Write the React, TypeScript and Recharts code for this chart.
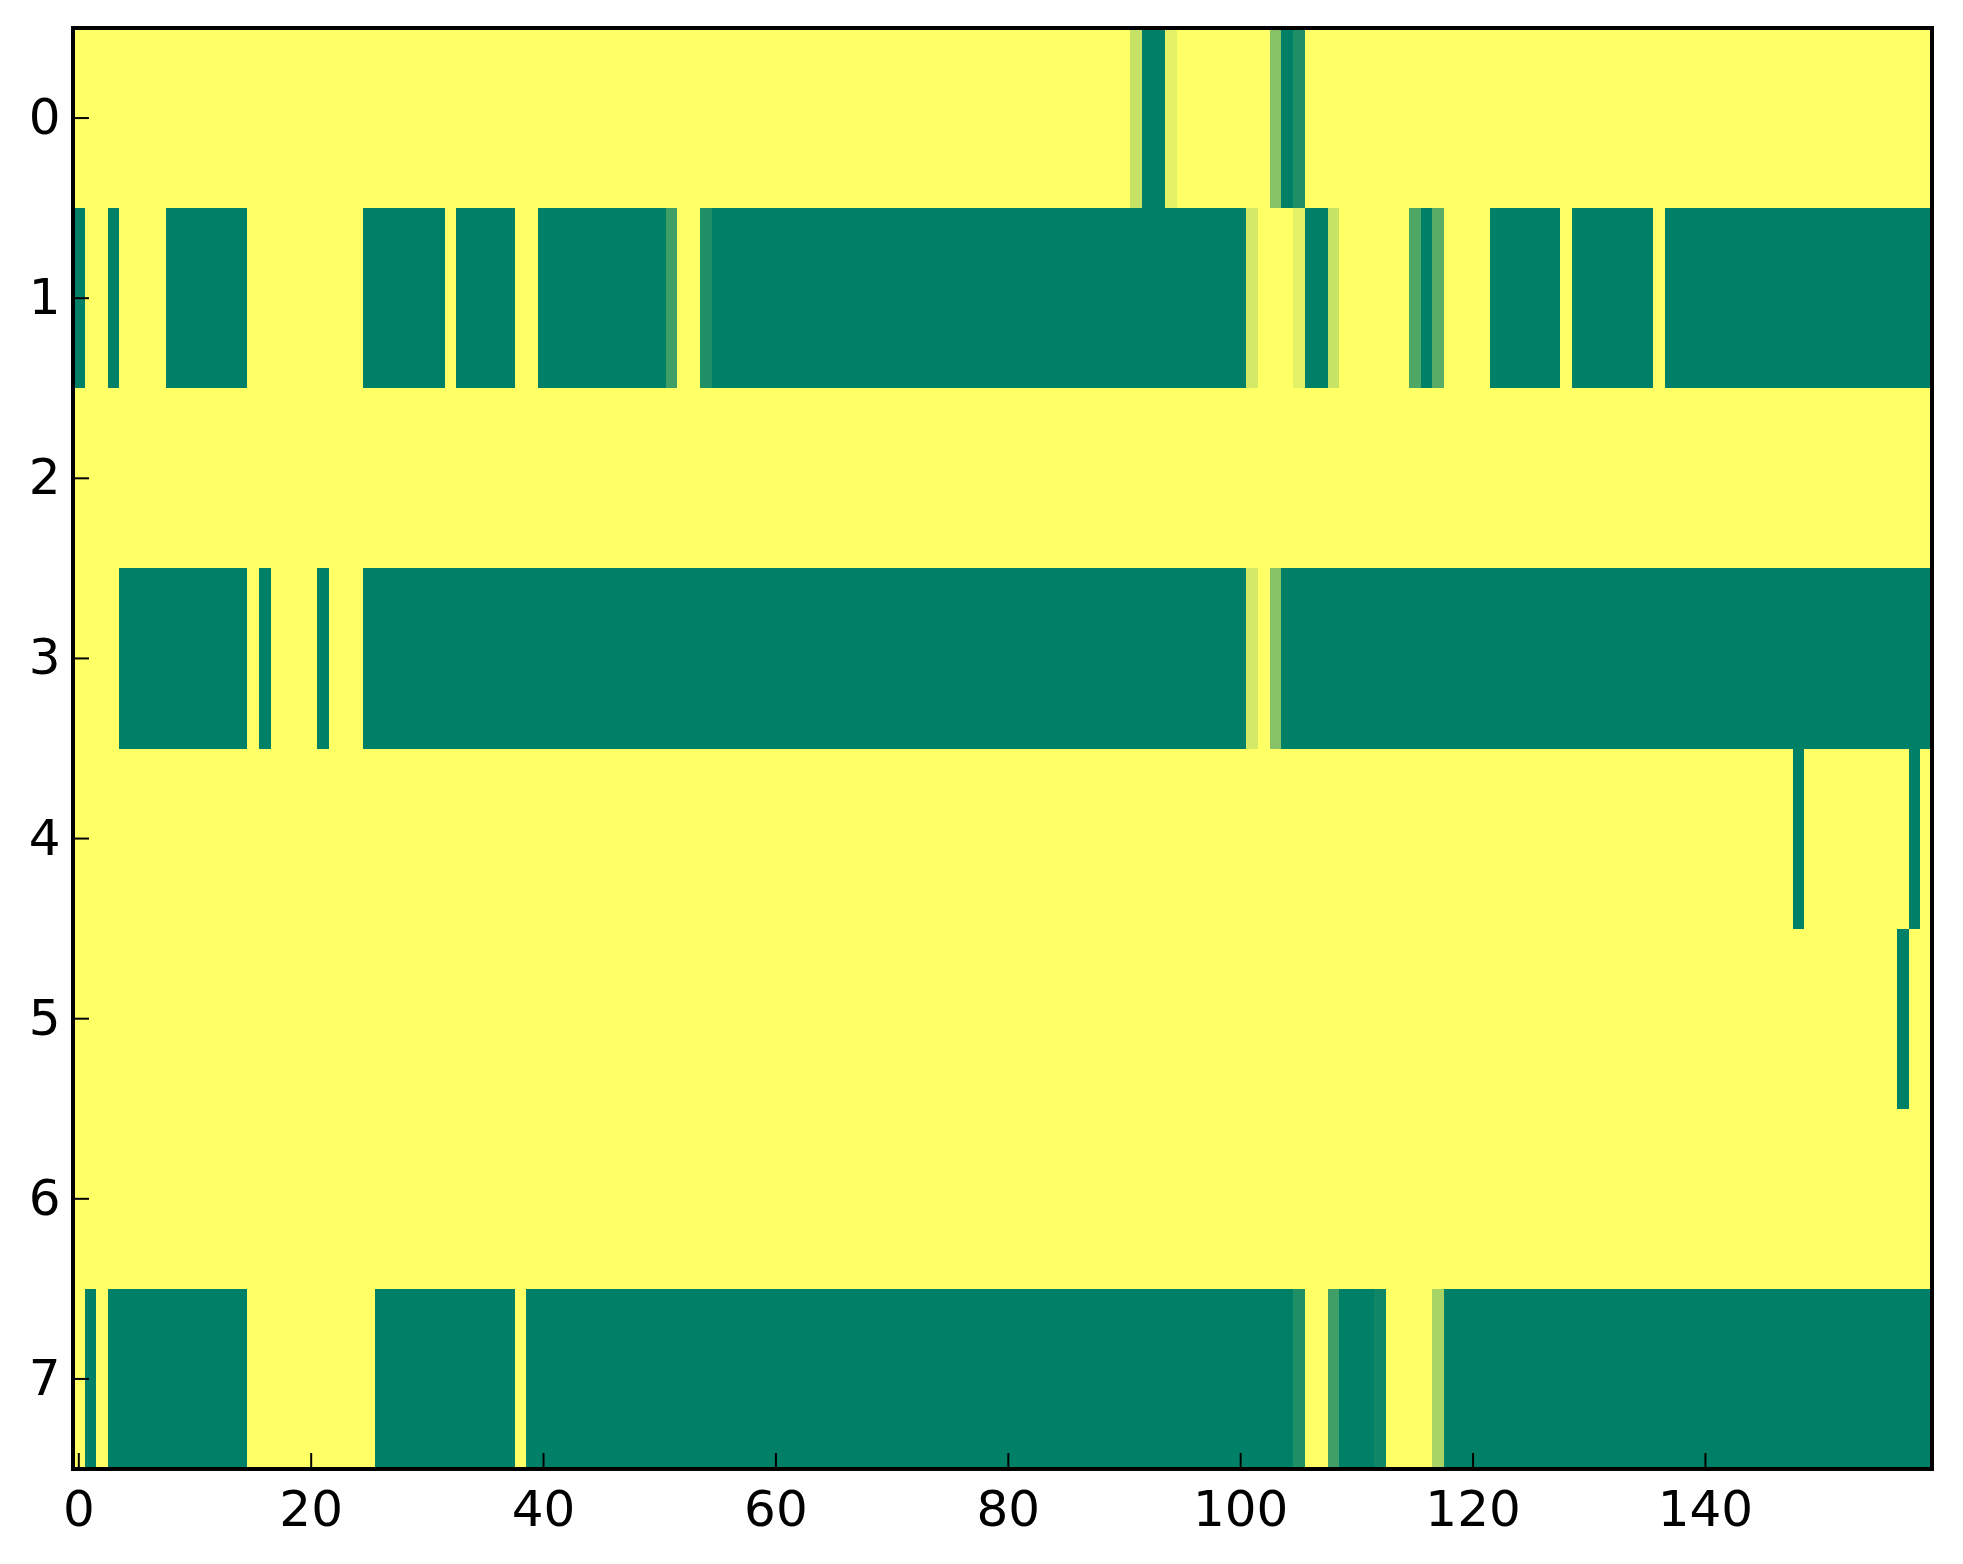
import React from "react";
import { ScatterChart, XAxis, YAxis, ReferenceArea } from "recharts";

// Heat-map values (0 = yellow / low, 1 = green / high), one array per row, 160 columns each.
const row0 = [
  0,0,0,0,0,0,0,0,0,0,0,0,0,0,0,0,0,0,0,0,
  0,0,0,0,0,0,0,0,0,0,0,0,0,0,0,0,0,0,0,0,
  0,0,0,0,0,0,0,0,0,0,0,0,0,0,0,0,0,0,0,0,
  0,0,0,0,0,0,0,0,0,0,0,0,0,0,0,0,0,0,0,0,
  0,0,0,0,0,0,0,0,0,0,0,0.22,1,1,0.11,0,0,0,0,0,
  0,0,0,0.47,1,0.88,0,0,0,0,0,0,0,0,0,0,0,0,0,0,
  0,0,0,0,0,0,0,0,0,0,0,0,0,0,0,0,0,0,0,0,
  0,0,0,0,0,0,0,0,0,0,0,0,0,0,0,0,0,0,0,0,
];
const row1 = [
  1,0,0,1,0,0,0,0,1,1,1,1,1,1,1,0,0,0,0,0,
  0,0,0,0,0,1,1,1,1,1,1,1,0,1,1,1,1,1,0,0,
  1,1,1,1,1,1,1,1,1,1,1,0.75,0,0,0.88,1,1,1,1,1,
  1,1,1,1,1,1,1,1,1,1,1,1,1,1,1,1,1,1,1,1,
  1,1,1,1,1,1,1,1,1,1,1,1,1,1,1,1,1,1,1,1,
  1,0.17,0,0,0,0.11,1,1,0.22,0,0,0,0,0,0,0.69,1,0.65,0,0,
  0,0,1,1,1,1,1,1,0,1,1,1,1,1,1,1,0,1,1,1,
  1,1,1,1,1,1,1,1,1,1,1,1,1,1,1,1,1,1,1,1,
];
const row2 = [
  0,0,0,0,0,0,0,0,0,0,0,0,0,0,0,0,0,0,0,0,
  0,0,0,0,0,0,0,0,0,0,0,0,0,0,0,0,0,0,0,0,
  0,0,0,0,0,0,0,0,0,0,0,0,0,0,0,0,0,0,0,0,
  0,0,0,0,0,0,0,0,0,0,0,0,0,0,0,0,0,0,0,0,
  0,0,0,0,0,0,0,0,0,0,0,0,0,0,0,0,0,0,0,0,
  0,0,0,0,0,0,0,0,0,0,0,0,0,0,0,0,0,0,0,0,
  0,0,0,0,0,0,0,0,0,0,0,0,0,0,0,0,0,0,0,0,
  0,0,0,0,0,0,0,0,0,0,0,0,0,0,0,0,0,0,0,0,
];
const row3 = [
  0,0,0,0,1,1,1,1,1,1,1,1,1,1,1,0,1,0,0,0,
  0,1,0,0,0,1,1,1,1,1,1,1,1,1,1,1,1,1,1,1,
  1,1,1,1,1,1,1,1,1,1,1,1,1,1,1,1,1,1,1,1,
  1,1,1,1,1,1,1,1,1,1,1,1,1,1,1,1,1,1,1,1,
  1,1,1,1,1,1,1,1,1,1,1,1,1,1,1,1,1,1,1,1,
  1,0.17,0,0.47,1,1,1,1,1,1,1,1,1,1,1,1,1,1,1,1,
  1,1,1,1,1,1,1,1,1,1,1,1,1,1,1,1,1,1,1,1,
  1,1,1,1,1,1,1,1,1,1,1,1,1,1,1,1,1,1,1,1,
];
const row4 = [
  0,0,0,0,0,0,0,0,0,0,0,0,0,0,0,0,0,0,0,0,
  0,0,0,0,0,0,0,0,0,0,0,0,0,0,0,0,0,0,0,0,
  0,0,0,0,0,0,0,0,0,0,0,0,0,0,0,0,0,0,0,0,
  0,0,0,0,0,0,0,0,0,0,0,0,0,0,0,0,0,0,0,0,
  0,0,0,0,0,0,0,0,0,0,0,0,0,0,0,0,0,0,0,0,
  0,0,0,0,0,0,0,0,0,0,0,0,0,0,0,0,0,0,0,0,
  0,0,0,0,0,0,0,0,0,0,0,0,0,0,0,0,0,0,0,0,
  0,0,0,0,0,0,0,0,1,0,0,0,0,0,0,0,0,0,1,0,
];
const row5 = [
  0,0,0,0,0,0,0,0,0,0,0,0,0,0,0,0,0,0,0,0,
  0,0,0,0,0,0,0,0,0,0,0,0,0,0,0,0,0,0,0,0,
  0,0,0,0,0,0,0,0,0,0,0,0,0,0,0,0,0,0,0,0,
  0,0,0,0,0,0,0,0,0,0,0,0,0,0,0,0,0,0,0,0,
  0,0,0,0,0,0,0,0,0,0,0,0,0,0,0,0,0,0,0,0,
  0,0,0,0,0,0,0,0,0,0,0,0,0,0,0,0,0,0,0,0,
  0,0,0,0,0,0,0,0,0,0,0,0,0,0,0,0,0,0,0,0,
  0,0,0,0,0,0,0,0,0,0,0,0,0,0,0,0,0,1,0,0,
];
const row6 = [
  0,0,0,0,0,0,0,0,0,0,0,0,0,0,0,0,0,0,0,0,
  0,0,0,0,0,0,0,0,0,0,0,0,0,0,0,0,0,0,0,0,
  0,0,0,0,0,0,0,0,0,0,0,0,0,0,0,0,0,0,0,0,
  0,0,0,0,0,0,0,0,0,0,0,0,0,0,0,0,0,0,0,0,
  0,0,0,0,0,0,0,0,0,0,0,0,0,0,0,0,0,0,0,0,
  0,0,0,0,0,0,0,0,0,0,0,0,0,0,0,0,0,0,0,0,
  0,0,0,0,0,0,0,0,0,0,0,0,0,0,0,0,0,0,0,0,
  0,0,0,0,0,0,0,0,0,0,0,0,0,0,0,0,0,0,0,0,
];
const row7 = [
  0,1,0,1,1,1,1,1,1,1,1,1,1,1,1,0,0,0,0,0,
  0,0,0,0,0,0,1,1,1,1,1,1,1,1,1,1,1,1,0,1,
  1,1,1,1,1,1,1,1,1,1,1,1,1,1,1,1,1,1,1,1,
  1,1,1,1,1,1,1,1,1,1,1,1,1,1,1,1,1,1,1,1,
  1,1,1,1,1,1,1,1,1,1,1,1,1,1,1,1,1,1,1,1,
  1,1,1,1,1,0.88,0,0,0.75,1,1,1,0.94,0,0,0,0,0.34,1,1,
  1,1,1,1,1,1,1,1,1,1,1,1,1,1,1,1,1,1,1,1,
  1,1,1,1,1,1,1,1,1,1,1,1,1,1,1,1,1,1,1,1,
];

const ROWS = [row0, row1, row2, row3, row4, row5, row6, row7];
const X_TICKS = [0, 20, 40, 60, 80, 100, 120, 140];
const Y_TICKS = [0, 1, 2, 3, 4, 5, 6, 7];

const N_COLS = row0.length;
const X_DOMAIN: [number, number] = [-0.5, N_COLS - 0.5];
const Y_DOMAIN: [number, number] = [-0.5, ROWS.length - 0.5];

const FONT = "'DejaVu Sans', 'Liberation Sans', sans-serif";

// matplotlib "summer_r" colormap: 1 -> green, 0 -> yellow
function summerR(v: number): string {
  const t = 1 - v;
  const r = Math.round(255 * t);
  const g = Math.round(255 * (0.5 + 0.5 * t));
  const b = 102;
  return `rgb(${r},${g},${b})`;
}

type Run = { row: number; start: number; end: number; v: number };

function rowRuns(values: number[], row: number): Run[] {
  const out: Run[] = [];
  let start = 0;
  for (let i = 1; i <= values.length; i++) {
    if (i === values.length || values[i] !== values[start]) {
      out.push({ row, start, end: i - 1, v: values[start] });
      start = i;
    }
  }
  return out;
}

const RUNS: Run[] = ROWS.flatMap((vals, r) => rowRuns(vals, r));

const BottomTick = (props: any) => {
  const { x, y, payload } = props;
  return (
    <g>
      <line x1={x} y1={y} x2={x} y2={y - 16} stroke="#000" strokeWidth={2} />
      <text x={x} y={y + 57} textAnchor="middle" fontSize={50} fontFamily={FONT} fill="#000">
        {payload.value}
      </text>
    </g>
  );
};

const TopTick = (props: any) => {
  const { x, y } = props;
  return <line x1={x} y1={y} x2={x} y2={y + 16} stroke="#000" strokeWidth={2} />;
};

const LeftTick = (props: any) => {
  const { x, y, payload } = props;
  return (
    <g>
      <line x1={x} y1={y} x2={x + 16} y2={y} stroke="#000" strokeWidth={2} />
      <text x={x - 12.5} y={y + 16} textAnchor="end" fontSize={50} fontFamily={FONT} fill="#000">
        {payload.value}
      </text>
    </g>
  );
};

const RightTick = (props: any) => {
  const { x, y } = props;
  return <line x1={x} y1={y} x2={x - 16} y2={y} stroke="#000" strokeWidth={2} />;
};

const CellShape = (fill: string) => (p: any) => (
  <rect x={p.x} y={p.y} width={p.width} height={p.height} fill={fill} stroke="none" shapeRendering="crispEdges" />
);

const FrameShape = (p: any) => (
  <rect x={p.x} y={p.y} width={p.width} height={p.height} fill="none" stroke="#000" strokeWidth={4} strokeLinejoin="miter" />
);

export default function App() {
  return (
    <div style={{ position: "absolute", left: 0, top: 0, width: 1963, height: 1564, background: "#fff" }}>
      <ScatterChart width={1963} height={1564} margin={{ top: 28, right: 31, bottom: 0, left: 0 }}>
        <XAxis
          type="number"
          dataKey="x"
          domain={X_DOMAIN}
          allowDataOverflow
          ticks={X_TICKS}
          interval={0}
          orientation="bottom"
          height={95}
          tickSize={0}
          tickMargin={0}
          axisLine={false}
          tickLine={false}
          tick={<BottomTick />}
        />
        <XAxis
          xAxisId="top"
          type="number"
          dataKey="x"
          domain={X_DOMAIN}
          allowDataOverflow
          ticks={X_TICKS}
          interval={0}
          orientation="top"
          height={0}
          tickSize={0}
          tickMargin={0}
          axisLine={false}
          tickLine={false}
          tick={<TopTick />}
        />
        <YAxis
          type="number"
          dataKey="y"
          domain={Y_DOMAIN}
          allowDataOverflow
          reversed
          ticks={Y_TICKS}
          interval={0}
          orientation="left"
          width={73}
          tickSize={0}
          tickMargin={0}
          axisLine={false}
          tickLine={false}
          tick={<LeftTick />}
        />
        <YAxis
          yAxisId="right"
          type="number"
          dataKey="y"
          domain={Y_DOMAIN}
          allowDataOverflow
          reversed
          ticks={Y_TICKS}
          interval={0}
          orientation="right"
          width={0}
          tickSize={0}
          tickMargin={0}
          axisLine={false}
          tickLine={false}
          tick={<RightTick />}
        />
        {RUNS.map((run, i) => (
          <ReferenceArea
            key={`run-${i}`}
            x1={run.start - 0.5}
            x2={run.end + 0.5}
            y1={run.row - 0.5}
            y2={run.row + 0.5}
            fill={summerR(run.v)}
            fillOpacity={1}
            strokeWidth={0}
            shape={CellShape(summerR(run.v))}
          />
        ))}
        <ReferenceArea
          x1={X_DOMAIN[0]}
          x2={X_DOMAIN[1]}
          y1={Y_DOMAIN[0]}
          y2={Y_DOMAIN[1]}
          fill="none"
          fillOpacity={0}
          stroke="#000"
          strokeWidth={4}
          shape={FrameShape}
        />
      </ScatterChart>
    </div>
  );
}
